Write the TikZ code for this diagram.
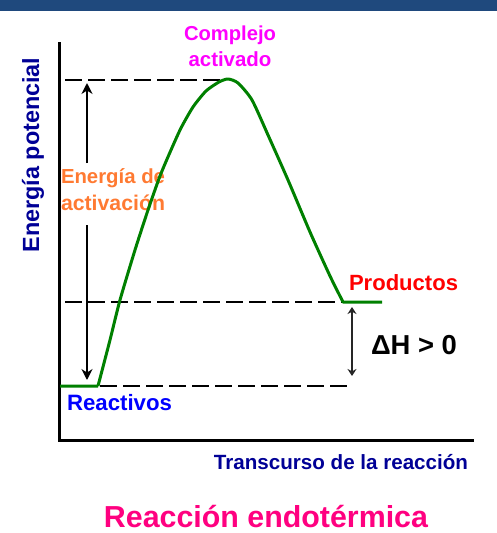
\documentclass[tikz,border=0pt]{standalone}
\usepackage{fontspec}
\setmainfont{Liberation Sans}
\usetikzlibrary{arrows.meta}
\definecolor{topbar}{RGB}{31,73,125}
\definecolor{navyt}{RGB}{0,0,150}
\definecolor{curvegreen}{RGB}{0,128,0}
\definecolor{orangelab}{RGB}{255,122,50}
\definecolor{pinklab}{RGB}{255,0,128}
\definecolor{magentalab}{RGB}{255,0,255}
\definecolor{bluelab}{RGB}{0,0,255}
\definecolor{redlab}{RGB}{255,0,0}
\newcommand{\fw}[2]{\resizebox{#1pt}{!}{\bfseries #2}}
\tikzset{
  lab/.style={inner sep=0pt, outer sep=0pt},
  axis/.style={line width=3pt, black},
  guide/.style={line width=2.6pt, black, dash pattern=on 17pt off 6pt},
  energyarrow/.style={line width=2.4pt, black, -{Stealth[length=11pt,width=11pt]}},
  dharrow/.style={line width=1.8pt, black!85, {Stealth[length=7pt,width=9pt]}-{Stealth[length=7pt,width=9pt]}},
  curve/.style={line width=3pt, curvegreen, line join=round}
}
\begin{document}
\begin{tikzpicture}[x=1pt,y=-1pt]
\useasboundingbox (0,0) rectangle (497,533);
\fill[topbar] (0,0) rectangle (497,11);
% axes
\coordinate (ytop) at (59,42);
\coordinate (origin) at (59,440);
\coordinate (xend) at (474,440);
\draw[axis] (ytop) -- (origin) -- (xend);
% guides
\coordinate (g1a) at (65,80);  \coordinate (g1b) at (224,80);
\coordinate (g2a) at (65,302); \coordinate (g2b) at (362,302);
\coordinate (g3a) at (100,386); \coordinate (g3b) at (352,386);
\draw[guide] (g1a) -- (g1b);
\draw[guide] (g2a) -- (g2b);
\draw[guide] (g3a) -- (g3b);
% labels
\node[lab, magentalab] (c1) at (230,35) {\fw{92}{Complejo}};
\node[lab, magentalab] (c2) at (230,59) {\fw{83}{activado}};
\node[lab, navyt, rotate=90] (ep) at (33,155) {\fw{195}{Energía potencial}};
\node[lab, orangelab, anchor=west] (ea1) at (61,178) {\fw{104}{Energía de}};
\node[lab, orangelab, anchor=west] (ea2) at (61,203) {\fw{104}{activación}};
\node[lab, redlab, anchor=west] (prod) at (349,283) {\fw{109}{Productos}};
\node[lab, black, anchor=west] (dh) at (371,345) {\fw{86}{ΔH > 0}};
\node[lab, bluelab, anchor=west] (reac) at (67,403) {\fw{105}{Reactivos}};
\node[lab, navyt] (tr) at (341,462) {\fw{254}{Transcurso de la reacción}};
\node[lab, pinklab] (title) at (266,517) {\fw{324}{Reacción endotérmica}};
% activation energy arrows
\coordinate (a1s) at (87,163); \coordinate (a1e) at (87,83);
\coordinate (a2s) at (87,225); \coordinate (a2e) at (87,380);
\draw[energyarrow] (a1s) -- (a1e);
\draw[energyarrow] (a2s) -- (a2e);
% delta H arrow
\coordinate (d1) at (352,307); \coordinate (d2) at (352,376);
\draw[dharrow] (d1) -- (d2);
% curve
\draw[curve] (60,386) -- (98,386)
  plot[smooth, tension=0.4] coordinates {(98,386) (110,340) (120,300) (135,250) (148,210) (160,176) (171,150) (181,128) (193,107) (206,91) (219,82) (228,79) (238,83) (252,100) (268,135) (288,180) (310,232) (330,276) (343,302)}
  -- (382,302);
\end{tikzpicture}
\end{document}
